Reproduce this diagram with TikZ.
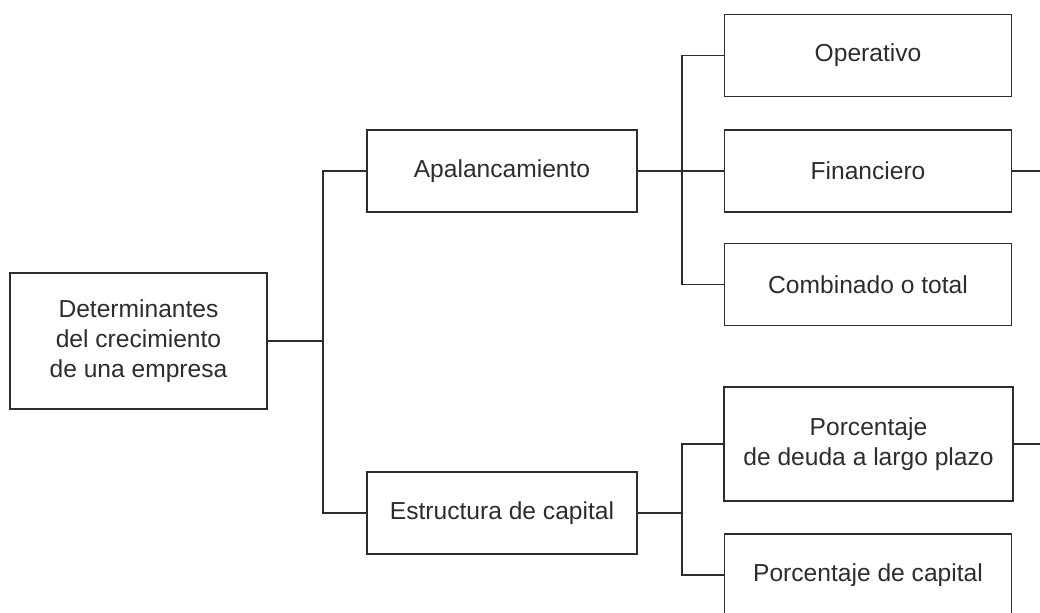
\documentclass[tikz,border=0pt]{standalone}
\usepackage{fontspec}
\setmainfont{Liberation Sans}
\definecolor{inkgray}{RGB}{45,45,45}

\begin{document}
\begin{tikzpicture}[x = 0.02cm, y = -0.02cm]
\tikzstyle{BoxStyle} = [shape = rectangle, draw = inkgray, line width = 0.8pt, text = inkgray, align = center, font = \fontsize{14}{17}\selectfont, inner sep = 0pt]
\tikzstyle{rootStyle} = [BoxStyle, minimum width = 5.14cm, minimum height = 2.72cm]
\tikzstyle{midStyle} = [BoxStyle, minimum width = 5.4cm, minimum height = 1.64cm]
\tikzstyle{leafStyle} = [BoxStyle, minimum width = 5.74cm, minimum height = 1.64cm]
\tikzstyle{EdgeStyle} = [draw = inkgray, line width = 0.8pt]
\useasboundingbox (0,0) rectangle (1040,612);
\clip (0,0) rectangle (1040,612);
% boxes
\node[rootStyle] (root) at (138.5, 341) {Determinantes\\del crecimiento\\de una empresa};
\node[midStyle] (apal) at (502, 171) {Apalancamiento};
\node[midStyle] (estr) at (502, 513) {Estructura de capital};
\node[leafStyle] (oper) at (868, 55.5) {Operativo};
\node[leafStyle] (fin) at (868, 171) {Financiero};
\node[leafStyle] (comb) at (868, 284.5) {Combinado o total};
\node[BoxStyle, minimum width = 5.78cm, minimum height = 2.28cm] (deuda) at (868.5, 444) {Porcentaje\\de deuda a largo plazo};
\node[leafStyle] (cap) at (868, 575) {Porcentaje de capital};
% buses
\coordinate (busA) at (323, 341);
\coordinate (busB) at (682, 171);
\coordinate (busC) at (682, 513);
\coordinate (finout) at (1050, 171);
\coordinate (deudaout) at (1050, 444);
% connectors
\draw[EdgeStyle] (root.east) -- (busA);
\draw[EdgeStyle] (apal.west) -| (busA);
\draw[EdgeStyle] (estr.west) -| (busA);
\draw[EdgeStyle] (apal.east) -- (fin.west);
\draw[EdgeStyle] (oper.west) -| (busB);
\draw[EdgeStyle] (comb.west) -| (busB);
\draw[EdgeStyle] (estr.east) -- (busC);
\draw[EdgeStyle] (deuda.west) -| (busC);
\draw[EdgeStyle] (cap.west) -| (busC);
\draw[EdgeStyle] (fin.east) -- (finout);
\draw[EdgeStyle] (deuda.east) -- (deudaout);
\end{tikzpicture}
\end{document}
